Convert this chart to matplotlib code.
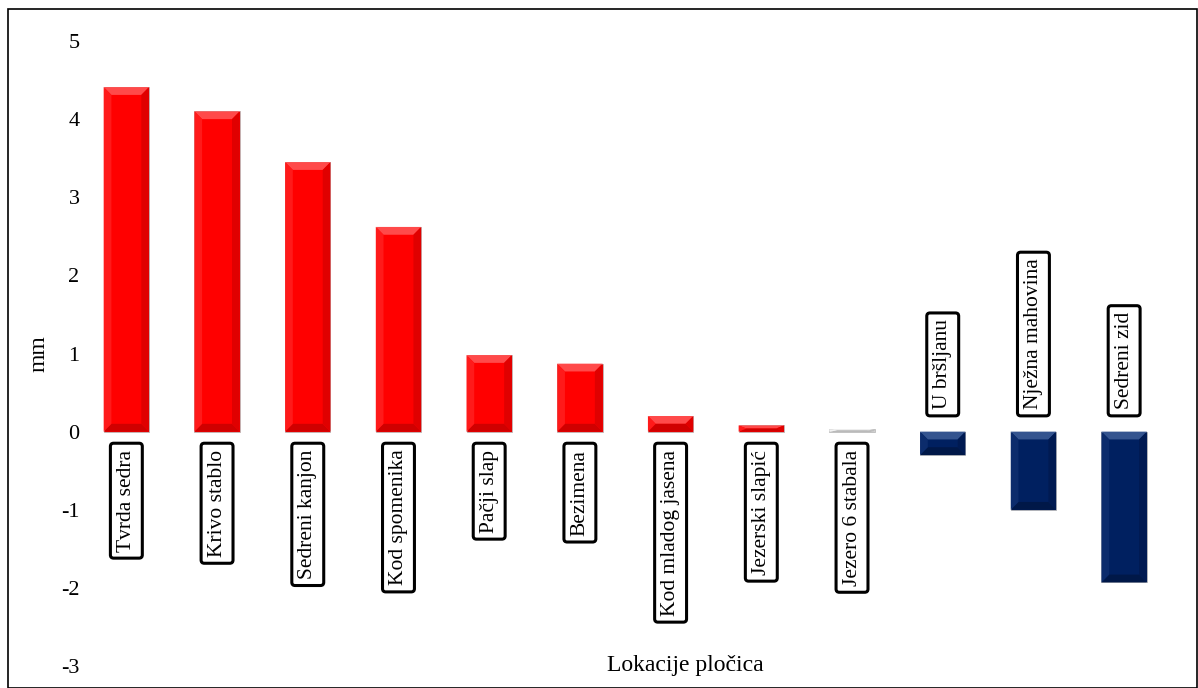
import matplotlib
matplotlib.use('Agg')
import matplotlib.pyplot as plt
from matplotlib.patches import Polygon, Rectangle
import numpy as np

plt.rcParams['font.family'] = ['Liberation Serif', 'DejaVu Serif']

# ── data ──────────────────────────────────────────────────────────────────────
LOCATIONS = ["Tvrda sedra", "Krivo stablo", "Sedreni kanjon", "Kod spomenika",
             "Pačji slap", "Bezimena", "Kod mladog jasena", "Jezerski slapić",
             "Jezero 6 stabala", "U bršljanu", "Nježna mahovina", "Sedreni zid"]
VALUES = [4.41, 4.10, 3.45, 2.62, 0.98, 0.87, 0.20, 0.08, 0.03, -0.30, -1.00, -1.93]
Y_TICKS = [5, 4, 3, 2, 1, 0, -1, -2, -3]

# base, top bevel, bottom bevel, left bevel, right bevel
RED = ('#FF0000', '#FF4A4A', '#D00000', '#FF1A1A', '#E00000')
NAVY = ('#002060', '#34548F', '#001848', '#0C2C6C', '#001A52')
GREY = ('#E6E6E6', '#FFFFFF', '#A0A0A0', '#F2F2F2', '#BDBDBD')


def bar_colors(v):
    if abs(v) < 0.05:
        return GREY
    return RED if v > 0 else NAVY


fig = plt.figure(figsize=(11.98, 6.88), dpi=100)
ax = fig.add_axes([81 / 1198, 1 - 666 / 688, 1088.5 / 1198, 625 / 688])

x = np.arange(len(VALUES))
W = 0.5
ax.bar(x, VALUES, width=W, color=[bar_colors(v)[0] for v in VALUES],
       edgecolor='#BBBBBB', linewidth=0.6, zorder=2)

# bevel look
bx, by = 0.085, 0.1
for i, v in enumerate(VALUES):
    base, top, bot, left, right = bar_colors(v)
    x0, x1 = i - W / 2, i + W / 2
    lo, hi = min(0, v), max(0, v)
    h = min(by, (hi - lo) / 2)
    polys = [
        ([(x0, hi), (x1, hi), (x1 - bx, hi - h), (x0 + bx, hi - h)], top),
        ([(x0, lo), (x1, lo), (x1 - bx, lo + h), (x0 + bx, lo + h)], bot),
        ([(x0, lo), (x0, hi), (x0 + bx, hi - h), (x0 + bx, lo + h)], left),
        ([(x1, lo), (x1, hi), (x1 - bx, hi - h), (x1 - bx, lo + h)], right),
    ]
    for pts, c in polys:
        ax.add_patch(Polygon(pts, closed=True, facecolor=c, edgecolor='none', zorder=3))

# boxed labels
box = dict(boxstyle='round,pad=0.3,rounding_size=0.15',
           facecolor='white', edgecolor='black', linewidth=2.2)
for i, (name, v) in enumerate(zip(LOCATIONS, VALUES)):
    if v >= 0:
        ax.annotate(name, xy=(i, 0), xytext=(0, -13), textcoords='offset points',
                    rotation=90, ha='center', va='top', fontsize=15.5,
                    bbox=box, zorder=4)
    else:
        ax.annotate(name, xy=(i, 0), xytext=(0, 16), textcoords='offset points',
                    rotation=90, ha='center', va='bottom', fontsize=15.5,
                    bbox=box, zorder=4)

ax.set_xlim(-0.5, len(VALUES) - 0.5)
ax.set_ylim(-3, 5)
ax.set_yticks(Y_TICKS)
ax.set_yticklabels([str(t) for t in Y_TICKS], fontsize=16)
ax.set_xticks([])
ax.tick_params(axis='y', length=0, pad=1)
for s in ax.spines.values():
    s.set_visible(False)

ax.set_ylabel('mm', fontsize=17, labelpad=8)
ax.text(0.555, 0.0, 'Lokacije pločica', transform=ax.transAxes,
        ha='center', va='center', fontsize=17)

fig.patches.append(Rectangle((8 / 1198, 0), 1 - 8 / 1198 - 0.001, 1 - 9 / 688,
                             transform=fig.transFigure, fill=False,
                             edgecolor='black', linewidth=1.2))

fig.savefig('out.png', dpi=100)
